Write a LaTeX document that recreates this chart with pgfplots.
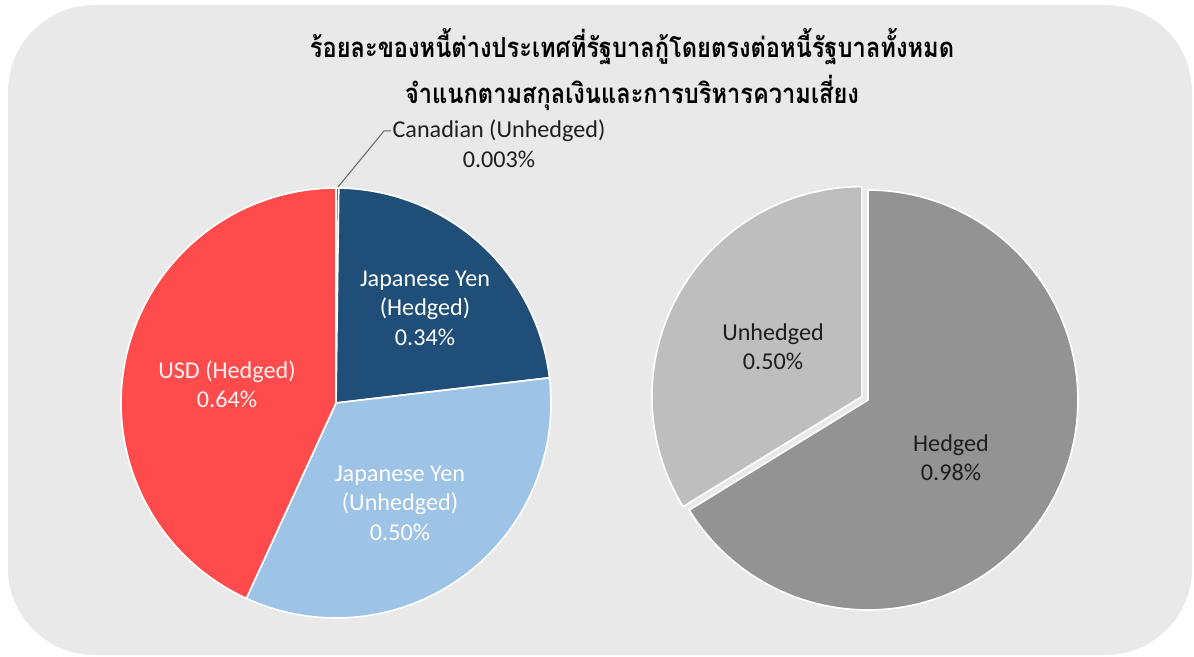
\documentclass[border=0pt]{standalone}
\usepackage{fontspec}
\setmainfont{Carlito}
\newfontfamily\thaifont[Script=Thai]{Loma}
\usepackage{pgfplots}
\pgfplotsset{compat=1.18}

\definecolor{bg}{HTML}{E9E9E9}
\definecolor{cred}{HTML}{FF4B4B}
\definecolor{cdblue}{HTML}{1F4E79}
\definecolor{clblue}{HTML}{9DC3E6}
\definecolor{cgrayd}{HTML}{939393}
\definecolor{cgrayl}{HTML}{BEBEBE}
\definecolor{txt}{HTML}{1E1E1E}

% data (percent of total government debt)
\def\vCAD{0.003}\def\vJPYH{0.34}\def\vJPYU{0.50}\def\vUSD{0.64}
\def\vH{0.98}\def\vU{0.50}

\newcommand\sector[6]{% colour, cx, cy, r, a1, a2
  \addplot[fill=#1, draw=white, line width=1pt, line join=round, domain=#5:#6, samples=120, variable=\t]
    ({#2+#4*cos(\t)},{#3+#4*sin(\t)}) -- (#2,#3) -- cycle;}

\begin{document}
\begin{tikzpicture}
\pgfmathsetmacro\totL{\vCAD+\vJPYH+\vJPYU+\vUSD}
\pgfmathsetmacro\aA{90-360*\vCAD/\totL}
\pgfmathsetmacro\aB{\aA-360*\vJPYH/\totL}
\pgfmathsetmacro\aC{\aB-360*\vJPYU/\totL}
\pgfmathsetmacro\totR{\vH+\vU}
\pgfmathsetmacro\aH{90-360*\vH/\totR}
\pgfmathsetmacro\aHe{\aH+360}
\pgfmathsetmacro\aMid{(90+\aHe)/2}
\pgfmathsetmacro\cxU{868+7*cos(\aMid)}
\pgfmathsetmacro\cyU{256+7*sin(\aMid)}
\begin{axis}[x=0.6pt, y=0.6pt, xmin=0, xmax=1194, ymin=0, ymax=656,
  hide axis, clip=false, scale only axis]
  \fill[white] (0,0) rectangle (1194,656);
  \fill[bg, rounded corners=52pt] (8,1) rectangle (1192,651);
  % left pie
  \sector{cdblue}{336}{253}{215}{\aA}{90}
  \sector{cdblue}{336}{253}{215}{\aB}{\aA}
  \sector{clblue}{336}{253}{215}{\aC}{\aB}
  \sector{cred}{336}{253}{215}{-270}{\aC}
  % right pie
  \sector{cgrayd}{868}{256}{210}{\aH}{90}
  \sector{cgrayl}{\cxU}{\cyU}{210}{90}{\aHe}
  % leader
  \draw[gray!80!black, line width=0.6pt] (338,469) -- (384,525) -- (391,525);
  % labels
  \begin{scope}[every node/.style={font=\fontsize{14.5}{17.7}\selectfont, align=center}]
  \node[text=txt] at (499,512) {Canadian (Unhedged)\\0.003\%};
  \node[text=white] at (425,348) {Japanese Yen\\(Hedged)\\0.34\%};
  \node[text=white!95!red] at (227,271.5) {USD (Hedged)\\0.64\%};
  \node[text=white] at (400,153) {Japanese Yen\\(Unhedged)\\0.50\%};
  \node[text=txt] at (773,309.5) {Unhedged\\0.50\%};
  \node[text=txt] at (951,198.5) {Hedged\\0.98\%};
  \end{scope}
  \node[font=\thaifont\bfseries\fontsize{16.5}{20}\selectfont, text=black] at (632,609) {\scalebox{0.86}[1]{ร้อยละของหนี้ต่างประเทศที่รัฐบาลกู้โดยตรงต่อหนี้รัฐบาลทั้งหมด}};
  \node[font=\thaifont\bfseries\fontsize{16.5}{20}\selectfont, text=black] at (632,563) {\scalebox{0.86}[1]{จำแนกตามสกุลเงินและการบริหารความเสี่ยง}};
\end{axis}
\end{tikzpicture}
\end{document}
